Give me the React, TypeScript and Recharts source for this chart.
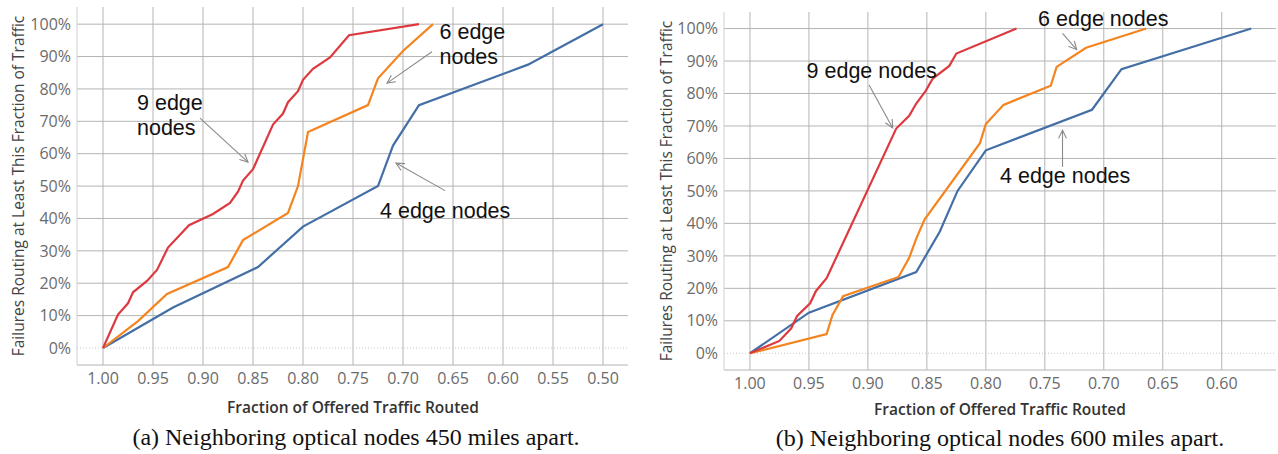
import React from 'react'
import { LineChart, Line, XAxis, YAxis, CartesianGrid, ReferenceLine, ReferenceDot } from 'recharts'

// ticks
const Y_TICKS = [0, 10, 20, 30, 40, 50, 60, 70, 80, 90, 100]
const A_X_TICKS = [1.0, 0.95, 0.9, 0.85, 0.8, 0.75, 0.7, 0.65, 0.6, 0.55, 0.5]
const B_X_TICKS = [1.0, 0.95, 0.9, 0.85, 0.8, 0.75, 0.7, 0.65, 0.6]

// (a) 450 miles
const aRedX = [1.0, 0.985, 0.975, 0.97, 0.956, 0.946, 0.935, 0.914, 0.89, 0.873, 0.865, 0.86, 0.85, 0.83, 0.82, 0.815, 0.805, 0.8, 0.79, 0.773, 0.754, 0.684]
const aRedY = [0, 10.3, 13.8, 17.2, 20.7, 24.1, 31.0, 37.9, 41.4, 44.8, 48.3, 51.7, 55.2, 69.0, 72.4, 75.9, 79.3, 82.8, 86.2, 89.7, 96.6, 100]
const aOrangeX = [1.0, 0.965, 0.936, 0.875, 0.86, 0.815, 0.805, 0.795, 0.735, 0.725, 0.7, 0.67]
const aOrangeY = [0, 8.3, 16.7, 25, 33.3, 41.7, 50, 66.7, 75, 83.3, 91.7, 100]
const aBlueX = [1.0, 0.93, 0.845, 0.8, 0.725, 0.71, 0.684, 0.575, 0.5]
const aBlueY = [0, 12.5, 25, 37.5, 50, 62.5, 75, 87.5, 100]

// (b) 600 miles
const bRedX = [1.0, 0.975, 0.965, 0.96, 0.949, 0.944, 0.935, 0.876, 0.865, 0.859, 0.851, 0.845, 0.831, 0.825, 0.774]
const bRedY = [0, 3.8, 7.7, 11.5, 15.4, 19.2, 23.1, 69.2, 73.1, 76.9, 80.8, 84.6, 88.5, 92.3, 100]
const bOrangeX = [1.0, 0.935, 0.93, 0.921, 0.874, 0.865, 0.859, 0.852, 0.805, 0.8, 0.785, 0.745, 0.74, 0.715, 0.664]
const bOrangeY = [0, 5.9, 11.8, 17.6, 23.5, 29.4, 35.3, 41.2, 64.7, 70.6, 76.5, 82.4, 88.2, 94.1, 100]
const bBlueX = [1.0, 0.95, 0.859, 0.839, 0.824, 0.8, 0.71, 0.685, 0.575]
const bBlueY = [0, 12.5, 25, 37.5, 50, 62.5, 75, 87.5, 100]

const RED = '#dd3a40'
const ORANGE = '#f4841f'
const BLUE = '#436fa6'
const GRID = '#b4b4b4'

const toPoints = (xs: number[], ys: number[]) => xs.map((x, i) => ({ x, y: ys[i] }))

// annotations (data coordinates)
const aLabels = [
  { x: 0.966, y: 75.7, lines: ['9 edge', 'nodes'] },
  { x: 0.6635, y: 97.7, lines: ['6 edge', 'nodes'] },
  { x: 0.723, y: 42.6, lines: ['4 edge nodes'] },
]
const aArrows = [
  { from: [0.903, 71], to: [0.855, 57.4] },
  { from: [0.671, 91.5], to: [0.716, 81.8] },
  { from: [0.658, 48.6], to: [0.707, 57.1] },
]
const bLabels = [
  { x: 0.952, y: 87.2, lines: ['9 edge nodes'] },
  { x: 0.7557, y: 103.1, lines: ['6 edge nodes'] },
  { x: 0.788, y: 54.9, lines: ['4 edge nodes'] },
]
const bArrows = [
  { from: [0.899, 82.6], to: [0.879, 69.4] },
  { from: [0.735, 98.5], to: [0.723, 93.5] },
  { from: [0.735, 57.4], to: [0.735, 68.7] },
]

const Arrow = (props: any) => {
  const { x1, y1, x2, y2 } = props
  const ang = Math.atan2(y2 - y1, x2 - x1)
  const len = 9
  const spread = 0.45
  const p1 = [x2 - len * Math.cos(ang - spread), y2 - len * Math.sin(ang - spread)]
  const p2 = [x2 - len * Math.cos(ang + spread), y2 - len * Math.sin(ang + spread)]
  return (
    <g>
      <line x1={x1} y1={y1} x2={x2} y2={y2} stroke="#8a8a8a" strokeWidth={1.1} />
      <polyline points={`${p1[0]},${p1[1]} ${x2},${y2} ${p2[0]},${p2[1]}`} fill="none" stroke="#8a8a8a" strokeWidth={1.1} />
    </g>
  )
}

const makeLabel = (lines: string[]) => (props: any) => (
  <text x={props.cx} y={props.cy} fontFamily="'Liberation Sans', Arial, sans-serif" fontSize={21.5} fill="#111">
    {lines.map((l, i) => (
      <tspan key={i} x={props.cx} dy={i === 0 ? '0.35em' : 25}>{l}</tspan>
    ))}
  </text>
)

const tickStyle = { fill: '#6b6b6b', fontSize: 16, fontFamily: "'Open Sans', sans-serif" }

interface PanelProps {
  left: number
  width: number
  margin: { top: number; right: number; bottom: number; left: number }
  yAxisWidth: number
  xDomain: [number, number]
  yDomain: [number, number]
  xTicks: number[]
  red: { x: number; y: number }[]
  orange: { x: number; y: number }[]
  blue: { x: number; y: number }[]
  labels: { x: number; y: number; lines: string[] }[]
  arrows: { from: number[]; to: number[] }[]
}

const Panel = (p: PanelProps) => (
  <div style={{ position: 'absolute', left: p.left, top: 0 }}>
    <LineChart width={p.width} height={454} margin={p.margin}>
      <CartesianGrid stroke={GRID} strokeWidth={1} horizontalValues={Y_TICKS.slice(1)} verticalValues={p.xTicks} />
      <XAxis
        type="number"
        dataKey="x"
        reversed
        domain={p.xDomain}
        ticks={p.xTicks}
        allowDataOverflow
        tickFormatter={(v: number) => v.toFixed(2)}
        tick={tickStyle}
        tickLine={false}
        tickSize={0}
        tickMargin={8}
        height={30}
        stroke={GRID}
      />
      <YAxis
        type="number"
        dataKey="y"
        domain={p.yDomain}
        ticks={Y_TICKS}
        allowDataOverflow
        tickFormatter={(v: number) => `${v}%`}
        tick={tickStyle}
        tickLine={false}
        tickSize={0}
        tickMargin={6}
        width={p.yAxisWidth}
        stroke="#d0d0d0"
      />
      <ReferenceLine y={0} stroke="#c8c8c8" strokeDasharray="1 2" />
      <Line data={p.blue} dataKey="y" type="linear" stroke={BLUE} strokeWidth={2.2} dot={false} isAnimationActive={false} />
      <Line data={p.orange} dataKey="y" type="linear" stroke={ORANGE} strokeWidth={2.2} dot={false} isAnimationActive={false} />
      <Line data={p.red} dataKey="y" type="linear" stroke={RED} strokeWidth={2.2} dot={false} isAnimationActive={false} />
      {p.arrows.map((a, i) => (
        <ReferenceLine
          key={`ar${i}`}
          segment={[{ x: a.from[0], y: a.from[1] }, { x: a.to[0], y: a.to[1] }]}
          ifOverflow="visible"
          shape={Arrow}
        />
      ))}
      {p.labels.map((l, i) => (
        <ReferenceDot key={`lb${i}`} x={l.x} y={l.y} r={0} ifOverflow="visible" shape={makeLabel(l.lines)} />
      ))}
    </LineChart>
  </div>
)

const titleStyle: React.CSSProperties = {
  position: 'absolute',
  whiteSpace: 'nowrap',
  fontFamily: "'Open Sans', sans-serif",
  color: '#333',
}

const YTitle = ({ cx, cy }: { cx: number; cy: number }) => (
  <div style={{ ...titleStyle, left: cx, top: cy, fontSize: 15.5, color: '#444', transform: 'translate(-50%, -50%) rotate(-90deg)' }}>
    Failures Routing at Least This Fraction of Traffic
  </div>
)

const XTitle = ({ cx, cy }: { cx: number; cy: number }) => (
  <div style={{ ...titleStyle, left: cx, top: cy, fontSize: 15.5, fontWeight: 600, transform: 'translate(-50%, -50%)' }}>
    Fraction of Offered Traffic Routed
  </div>
)

const Caption = ({ cx, cy, text }: { cx: number; cy: number; text: string }) => (
  <div style={{ position: 'absolute', left: cx, top: cy, transform: 'translate(-50%, -50%)', whiteSpace: 'nowrap', fontFamily: "'Liberation Serif', 'Times New Roman', serif", fontSize: 24, color: '#111' }}>
    {text}
  </div>
)

export default function App() {
  return (
    <div style={{ position: 'absolute', left: 0, top: 0, width: 1278, height: 454, background: '#fff', overflow: 'hidden' }}>
      <Panel
        left={0}
        width={640}
        margin={{ top: 7, right: 12, bottom: 59, left: 0 }}
        yAxisWidth={77}
        xDomain={[0.475, 1.026]}
        yDomain={[-5.25, 105.3]}
        xTicks={A_X_TICKS}
        red={toPoints(aRedX, aRedY)}
        orange={toPoints(aOrangeX, aOrangeY)}
        blue={toPoints(aBlueX, aBlueY)}
        labels={aLabels}
        arrows={aArrows}
      />
      <Panel
        left={640}
        width={638}
        margin={{ top: 12, right: 2, bottom: 54, left: 0 }}
        yAxisWidth={84}
        xDomain={[0.554, 1.022]}
        yDomain={[-5.15, 105.1]}
        xTicks={B_X_TICKS}
        red={toPoints(bRedX, bRedY)}
        orange={toPoints(bOrangeX, bOrangeY)}
        blue={toPoints(bBlueX, bBlueY)}
        labels={bLabels}
        arrows={bArrows}
      />
      <YTitle cx={18} cy={186} />
      <YTitle cx={666} cy={191} />
      <XTitle cx={353} cy={407} />
      <XTitle cx={1000} cy={409} />
      <Caption cx={356} cy={437} text="(a) Neighboring optical nodes 450 miles apart." />
      <Caption cx={1000} cy={438} text="(b) Neighboring optical nodes 600 miles apart." />
    </div>
  )
}
